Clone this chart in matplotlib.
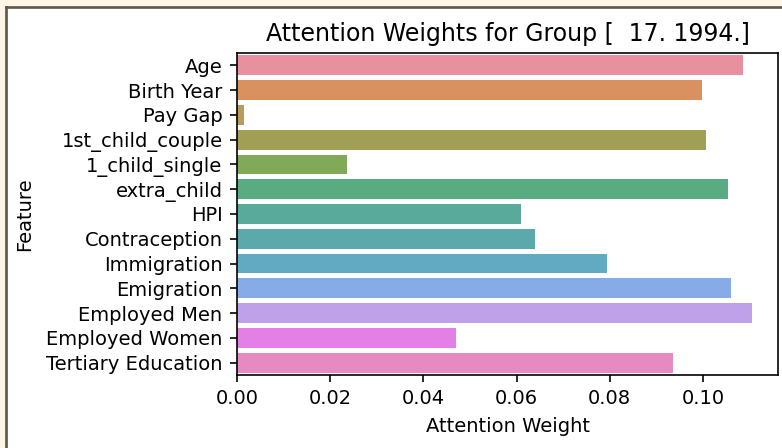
import matplotlib
matplotlib.use("Agg")
import matplotlib.pyplot as plt
from matplotlib.patches import Rectangle
from matplotlib.lines import Line2D
import seaborn as sns

# Data
features = ["Age", "Birth Year", "Pay Gap", "1st_child_couple", "1_child_single",
            "extra_child", "HPI", "Contraception", "Immigration", "Emigration",
            "Employed Men", "Employed Women", "Tertiary Education"]
weights = [0.1086, 0.0997, 0.0016, 0.1006, 0.0236, 0.1054, 0.0609, 0.0640,
           0.0793, 0.1060, 0.1105, 0.0470, 0.0935]
group_label = "[  17. 1994.]"

W, H, DPI = 782, 448, 148
plt.rcParams["font.size"] = 9.5
fig = plt.figure(figsize=(W / DPI, H / DPI), dpi=DPI)
fig.patch.set_facecolor("#fdf6e7")

# white panel with dark frame on the top/left (screenshot look)
fig.add_artist(Rectangle((6.5 / W, 0), 1, 1 - 7.5 / H, transform=fig.transFigure,
                         facecolor="white", edgecolor="none", zorder=-1))
fig.add_artist(Line2D([6 / W, 6 / W], [0, 1 - 7 / H], transform=fig.transFigure,
                      color="#5e5848", lw=1.3))
fig.add_artist(Line2D([6 / W, 1], [1 - 7 / H, 1 - 7 / H], transform=fig.transFigure,
                      color="#5e5848", lw=1.3))

# husl palette, desaturated like seaborn, then a touch paler
pal = sns.color_palette("husl", len(features), desat=0.75)
pal = [tuple(0.88 * c + 0.12 for c in col) for col in pal]

ax = fig.add_axes([237 / W, 1 - 375 / H, (778 - 237) / W, (375 - 53) / H])
sns.barplot(x=weights, y=features, hue=features, palette=pal, saturation=1,
            legend=False, ax=ax)
ax.set_xlim(0, 0.1161)
ax.set_title(f"Attention Weights for Group {group_label}", fontsize=11.5)
ax.set_xlabel("Attention Weight")
ax.set_ylabel("Feature")
ax.yaxis.labelpad = 6

fig.savefig("out.png", dpi=DPI, facecolor=fig.get_facecolor())
